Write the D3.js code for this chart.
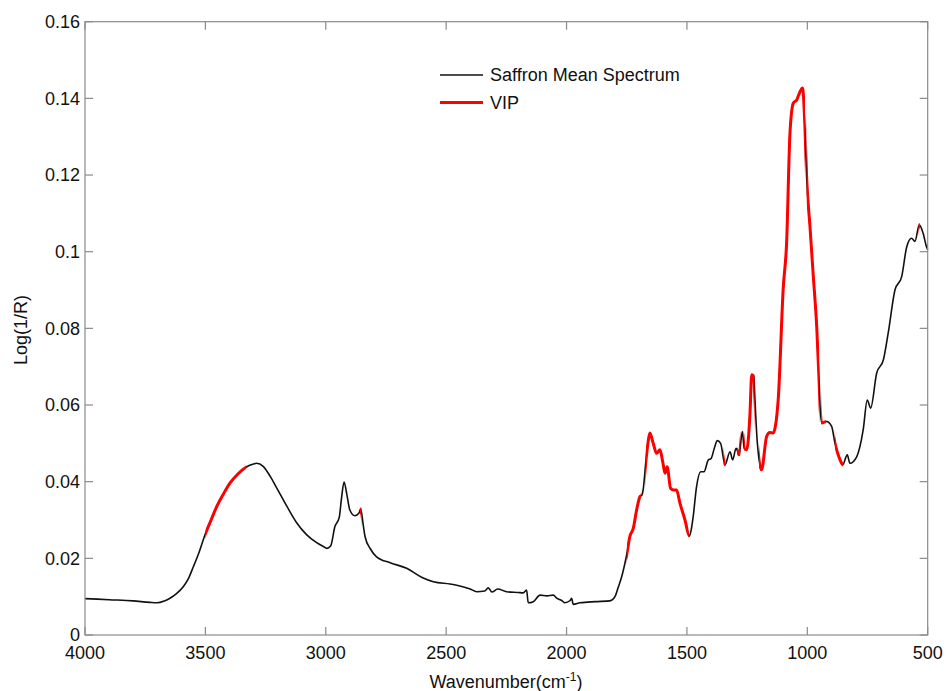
<!DOCTYPE html>
<html>
<head>
<meta charset="utf-8">
<script src="https://cdn.jsdelivr.net/npm/d3@7"></script>
<style>
  body { margin: 0; background: #fff; }
  svg { font-family: Arial, "Liberation Sans", sans-serif; }
</style>
</head>
<body>
<svg id="chart"></svg>
<script>
let width = 946;
let height = 691;
let plotLeft = 85, plotRight = 927.7, plotTop = 21.7, plotBottom = 635;

// spectrum (wavenumber, Log(1/R))
let wavenumbers = [4000, 3900, 3800, 3730, 3700, 3670, 3647, 3620, 3592, 3570, 3550, 3525, 3502, 3475, 3453, 3425, 3398, 3365, 3328, 3300,
  3287, 3260, 3230, 3204, 3160, 3121, 3080, 3038, 3010, 2996, 2980, 2962, 2944, 2935, 2924, 2912, 2900, 2879, 2862, 2855,
  2845, 2837, 2815, 2789, 2730, 2664, 2600, 2553, 2484, 2456, 2400, 2373, 2340, 2325, 2310, 2286, 2249, 2200, 2180, 2166,
  2159, 2138, 2110, 2082, 2055, 2041, 2020, 2007, 1985, 1979, 1972, 1944, 1880, 1820, 1799, 1785, 1771, 1760, 1750, 1737,
  1723, 1709, 1695, 1687, 1682, 1670, 1662, 1654, 1640, 1626, 1612, 1600, 1591, 1582, 1568, 1555, 1543, 1529, 1508, 1490,
  1482, 1474, 1460, 1443, 1429, 1411, 1400, 1385, 1374, 1360, 1342, 1321, 1310, 1296, 1283, 1270, 1262, 1252, 1238, 1231,
  1222, 1218, 1208, 1190, 1169, 1156, 1142, 1121, 1100, 1086, 1072, 1058, 1044, 1030, 1020, 1010, 1003, 989, 975, 961,
  950, 947, 940, 920, 899, 885, 864, 853, 834, 823, 795, 768, 751, 737, 712, 684, 664, 636, 608, 587,
  567, 553, 535, 519, 505, 500];
let meanSpectrum = [0.0095, 0.0092, 0.0089, 0.0085, 0.0084, 0.0089, 0.0096, 0.0108, 0.0126, 0.0148, 0.0178, 0.0218, 0.0261, 0.0302, 0.0335, 0.0368, 0.0396, 0.0420, 0.0439, 0.0446,
  0.0448, 0.0440, 0.0413, 0.0384, 0.0334, 0.0293, 0.0262, 0.0241, 0.0231, 0.0226, 0.0232, 0.0283, 0.0307, 0.0355, 0.0399, 0.0365, 0.0326, 0.0311, 0.0318, 0.0329,
  0.0290, 0.0257, 0.0225, 0.0204, 0.0188, 0.0174, 0.0150, 0.0139, 0.0133, 0.0130, 0.0120, 0.0113, 0.0115, 0.0123, 0.0112, 0.0120, 0.0113, 0.0111, 0.0110, 0.0117,
  0.0084, 0.0087, 0.0104, 0.0102, 0.0104, 0.0096, 0.0090, 0.0084, 0.0090, 0.0096, 0.0080, 0.0084, 0.0087, 0.0089, 0.0100, 0.0125, 0.0152, 0.0180, 0.0210, 0.0257,
  0.0278, 0.0326, 0.0361, 0.0365, 0.0378, 0.0457, 0.0500, 0.0527, 0.0500, 0.0474, 0.0483, 0.0450, 0.0422, 0.0439, 0.0383, 0.0378, 0.0378, 0.0344, 0.0300, 0.0258,
  0.0275, 0.0309, 0.0387, 0.0426, 0.0426, 0.0457, 0.0460, 0.0490, 0.0507, 0.0500, 0.0444, 0.0478, 0.0457, 0.0487, 0.0470, 0.0531, 0.0487, 0.0483, 0.0579, 0.0679,
  0.0675, 0.0622, 0.0505, 0.0431, 0.0518, 0.0528, 0.0527, 0.0613, 0.0905, 0.1023, 0.1310, 0.1388, 0.1396, 0.1418, 0.1427, 0.1327, 0.1197, 0.1066, 0.0935, 0.0805,
  0.0648, 0.0596, 0.0553, 0.0557, 0.0544, 0.0500, 0.0457, 0.0444, 0.0470, 0.0448, 0.0465, 0.0535, 0.0613, 0.0592, 0.0683, 0.0718, 0.0788, 0.0900, 0.0935, 0.1013,
  0.1035, 0.1027, 0.1070, 0.1048, 0.1013, 0.1005];

// VIP wavenumber ranges shown in red
let vipRanges = [[3500, 3330], [2858, 2852], [1750, 1690], [1672, 1492], [1348, 1340], [1292, 1278], [1264, 1219],
  [1201, 1010], [1003, 950], [942, 922], [886, 852], [538, 532], [503, 500]];

let xTicks = [4000, 3500, 3000, 2500, 2000, 1500, 1000, 500];
let yTicks = [0, 0.02, 0.04, 0.06, 0.08, 0.1, 0.12, 0.14, 0.16];
let legendLabels = ["Saffron Mean Spectrum", "VIP"];

let black = "#111";
let red = "#ff0000";
let axisGrey = "#8a8a8a";

let xax = d3.scaleLinear().domain([4000, 500]).range([plotLeft, plotRight]);
let yax = d3.scaleLinear().domain([0, 0.16]).range([plotBottom, plotTop]);

let svg = d3.select("#chart")
  .attr("width", width)
  .attr("height", height);

let points = wavenumbers.map((w, i) => [w, meanSpectrum[i]]);
let line = d3.line()
  .x(d => xax(d[0]))
  .y(d => yax(d[1]))
  .curve(d3.curveMonotoneX);

// clip rects for each VIP range
let defs = svg.append("defs");
vipRanges.forEach((r, i) => {
  defs.append("clipPath")
    .attr("id", "vip" + i)
    .append("rect")
    .attr("x", xax(r[0]))
    .attr("y", 0)
    .attr("width", xax(r[1]) - xax(r[0]))
    .attr("height", height);
});

svg.append("path")
  .attr("d", line(points))
  .attr("fill", "none")
  .attr("stroke", black)
  .attr("stroke-width", 1.6);

vipRanges.forEach((r, i) => {
  svg.append("path")
    .attr("d", line(points))
    .attr("clip-path", `url(#vip${i})`)
    .attr("fill", "none")
    .attr("stroke", red)
    .attr("stroke-width", 3);
});

// box + inward ticks (matlab style)
let axes = svg.append("g").attr("stroke", axisGrey).attr("stroke-width", 1.2);
axes.append("rect")
  .attr("x", plotLeft).attr("y", plotTop)
  .attr("width", plotRight - plotLeft).attr("height", plotBottom - plotTop)
  .attr("fill", "none");

xTicks.forEach(t => {
  axes.append("line").attr("x1", xax(t)).attr("x2", xax(t)).attr("y1", plotBottom).attr("y2", plotBottom - 8);
  axes.append("line").attr("x1", xax(t)).attr("x2", xax(t)).attr("y1", plotTop).attr("y2", plotTop + 8);
});
yTicks.forEach(t => {
  axes.append("line").attr("x1", plotLeft).attr("x2", plotLeft + 8).attr("y1", yax(t)).attr("y2", yax(t));
  axes.append("line").attr("x1", plotRight).attr("x2", plotRight - 8).attr("y1", yax(t)).attr("y2", yax(t));
});

svg.append("g").selectAll("text")
  .data(xTicks)
  .enter()
    .append("text")
    .text(d => d)
    .attr("x", d => xax(d))
    .attr("y", 659)
    .attr("text-anchor", "middle")
    .attr("font-size", 18)
    .attr("fill", black);

svg.append("g").selectAll("text")
  .data(yTicks)
  .enter()
    .append("text")
    .text(d => d)
    .attr("x", 80)
    .attr("y", d => yax(d))
    .attr("dy", "0.35em")
    .attr("text-anchor", "end")
    .attr("font-size", 18)
    .attr("fill", black);

let xlabel = svg.append("text")
  .attr("x", 506)
  .attr("y", 688)
  .attr("text-anchor", "middle")
  .attr("font-size", 18)
  .attr("fill", black);
xlabel.append("tspan").text("Wavenumber(cm");
xlabel.append("tspan").text("-1").attr("font-size", 12).attr("dy", -7);
xlabel.append("tspan").text(")").attr("dy", 7);

svg.append("text")
  .text("Log(1/R)")
  .attr("transform", "translate(27, 330) rotate(-90)")
  .attr("text-anchor", "middle")
  .attr("font-size", 18)
  .attr("fill", black);

// legend
let legend = svg.append("g");
legendLabels.forEach((label, i) => {
  let ly = 75 + i * 27.5;
  legend.append("line")
    .attr("x1", 440).attr("x2", 483)
    .attr("y1", ly).attr("y2", ly)
    .attr("stroke", i == 0 ? black : red)
    .attr("stroke-width", i == 0 ? 1.5 : 3);
  legend.append("text")
    .text(label)
    .attr("x", 490)
    .attr("y", ly)
    .attr("dy", "0.35em")
    .attr("font-size", 18)
    .attr("fill", black);
});
</script>
</body>
</html>
